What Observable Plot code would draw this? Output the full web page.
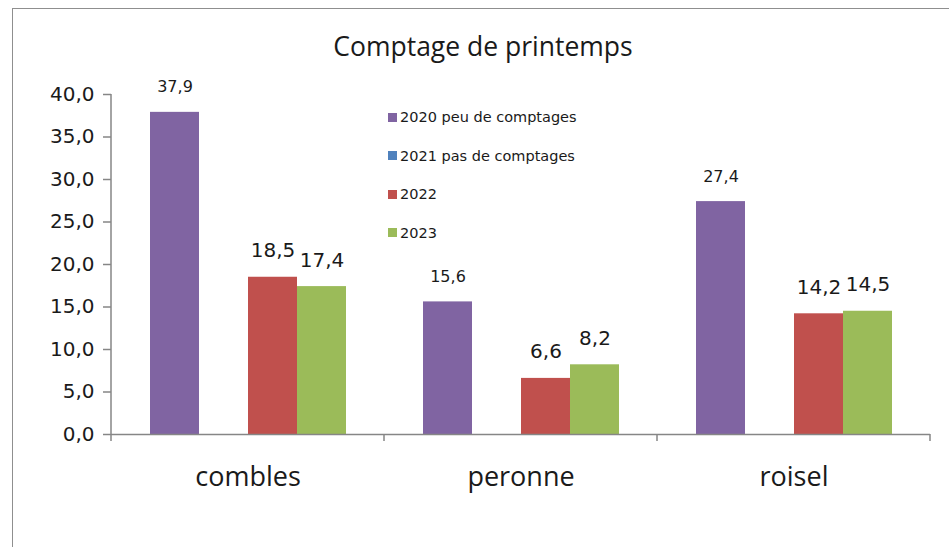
<!DOCTYPE html>
<html>
<head>
<meta charset="utf-8">
<script src="https://cdn.jsdelivr.net/npm/d3@7"></script>
<script src="https://cdn.jsdelivr.net/npm/@observablehq/plot@0.6"></script>
<style>
  html, body { margin: 0; padding: 0; background: #fff; }
  #wrap { position: relative; width: 949px; height: 547px; overflow: hidden; background: #fff; }
  #frame { position: absolute; left: 12px; top: 8px; width: 1000px; height: 600px; border: 1.5px solid #8f8f8f; box-sizing: border-box; }
  #title { position: absolute; left: 12px; width: 942px; top: 28px; text-align: center; font-family: "Open Sans", sans-serif; font-size: 26.5px; color: #1a1a1a; line-height: 36px; }
  #chart { position: absolute; left: 0; top: 0; }
  #legend { position: absolute; left: 388px; top: 107px; font-family: "DejaVu Sans", sans-serif; font-size: 14.5px; color: #1a1a1a; }
  #legend .row { display: flex; align-items: center; height: 20px; margin-bottom: 18.5px; }
  #legend .sw { width: 9px; height: 9px; margin-right: 3px; }
</style>
</head>
<body>
<div id="wrap">
  <div id="frame"></div>
  <div id="chart"></div>
  <div id="title">Comptage de printemps</div>
  <div id="legend"></div>
</div>
<script>
const categories = ["combles", "peronne", "roisel"];
const series = ["2020 peu de comptages", "2021 pas de comptages", "2022", "2023"];
const colors = ["#8064A2", "#4F81BD", "#C0504D", "#9BBB59"];
const values2020 = [37.9, 15.6, 27.4];
const values2021 = [null, null, null];
const values2022 = [18.5, 6.6, 14.2];
const values2023 = [17.4, 8.2, 14.5];
const yTicks = [0, 5, 10, 15, 20, 25, 30, 35, 40];

const allValues = [values2020, values2021, values2022, values2023];
const rows = categories.flatMap((c, i) =>
  series.map((s, j) => ({cat: c, series: s, value: allValues[j][i]}))
).filter(d => d.value != null);

const fmt = v => v.toFixed(1).replace(".", ",");

const chart = Plot.plot({
  width: 949,
  height: 547,
  marginLeft: 110,
  marginRight: 19,
  marginTop: 94,
  marginBottom: 113,
  style: {fontFamily: "DejaVu Sans, sans-serif", color: "#1a1a1a", background: "transparent"},
  fx: {domain: categories, padding: 0},
  x: {domain: series, paddingInner: 0, paddingOuter: 0.733, axis: null},
  y: {domain: [0, 40]},
  color: {domain: series, range: colors},
  marks: [
    Plot.barY(rows, {fx: "cat", x: "series", y: "value", fill: "series"}),
    Plot.ruleY([0], {stroke: "#868686", strokeWidth: 1.5}),
    Plot.axisY({ticks: yTicks, tickFormat: fmt, tickSize: 8, tickPadding: 9, fontSize: 20, stroke: "#868686", strokeWidth: 1.5, label: null, fill: "#1a1a1a"}),
    Plot.axisFx({anchor: "bottom", tickSize: 0, tickPadding: 32, fontSize: 27, fontFamily: "Open Sans, sans-serif", label: null, fill: "#1a1a1a"}),
    Plot.text(rows.filter(d => d.series === series[0]), {fx: "cat", x: "series", y: "value", text: d => fmt(d.value), lineAnchor: "bottom", dy: -20, fontSize: 16, fill: "#1a1a1a"}),
    Plot.text(rows.filter(d => d.series !== series[0]), {fx: "cat", x: "series", y: "value", text: d => fmt(d.value), lineAnchor: "bottom", dy: -20, fontSize: 20, fill: "#1a1a1a"})
  ]
});

document.getElementById("chart").appendChild(chart);

// axis line and category boundary ticks derived from the plot's scales
const fxs = chart.scale("fx");
const ys = chart.scale("y");
const edges = categories.map(c => fxs.apply(c));
edges.push(edges[edges.length - 1] + fxs.bandwidth);
const g = d3.select(chart).append("g").attr("stroke", "#868686").attr("stroke-width", 1.5);
g.append("line").attr("x1", edges[0]).attr("x2", edges[0]).attr("y1", ys.apply(0)).attr("y2", ys.apply(40));
edges.forEach(e => g.append("line").attr("x1", e).attr("x2", e).attr("y1", ys.apply(0)).attr("y2", ys.apply(0) + 7));

// legend
const legend = d3.select("#legend");
series.forEach((s, i) => {
  const row = legend.append("div").attr("class", "row");
  row.append("div").attr("class", "sw").style("background", colors[i]);
  row.append("span").text(s);
});
</script>
</body>
</html>
